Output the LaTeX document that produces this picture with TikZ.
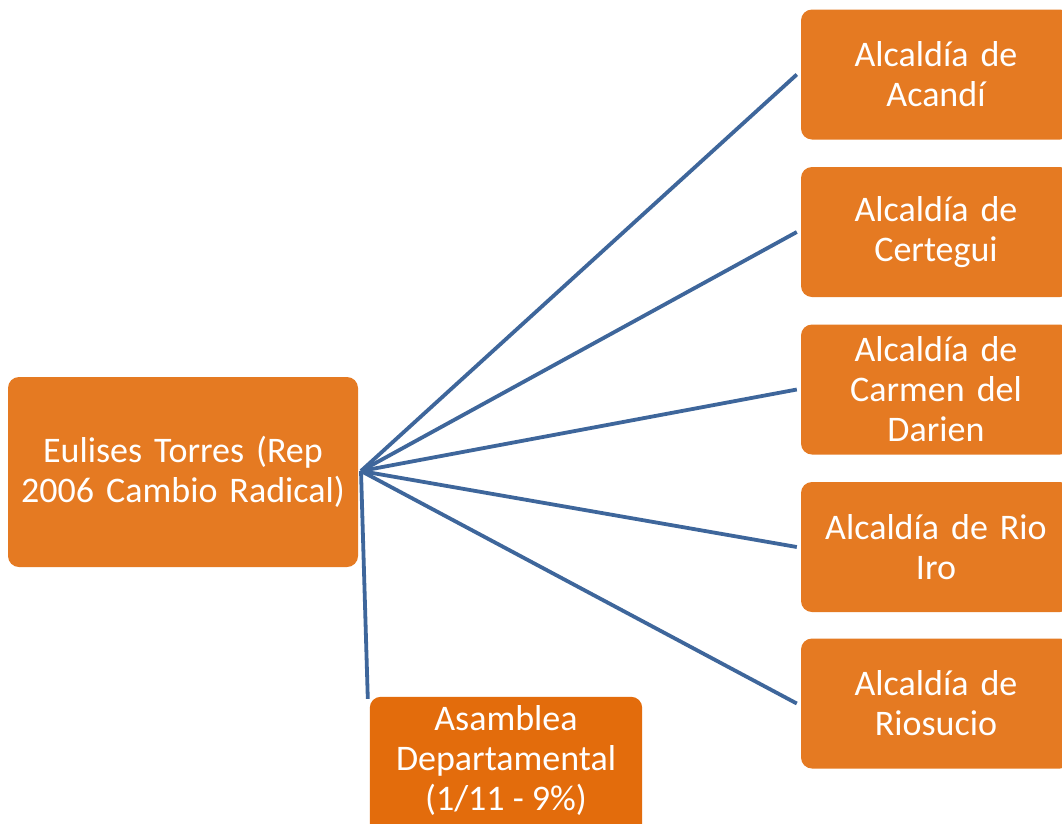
\documentclass[tikz,border=0pt]{standalone}
\usepackage{fontspec}
\setmainfont{Carlito}
\definecolor{boxor}{RGB}{229,122,34}
\definecolor{boxdark}{RGB}{227,108,12}
\definecolor{linkblue}{RGB}{62,102,155}
\begin{document}
\begin{tikzpicture}[x=1pt,y=-1pt,
  box/.style={fill=boxor, rounded corners=11pt, text=white, align=center,
    font=\fontsize{36}{40}\selectfont, inner sep=0pt},
  rbox/.style={box, minimum width=270pt, minimum height=130pt, text width=260pt},
  link/.style={draw=linkblue, line width=3.8pt}]
\useasboundingbox (0,0) rectangle (1062,823);
\clip (0,0) rectangle (1062,823);
\fill[white] (0,0) rectangle (1062,823);
\node[box, minimum width=350pt, minimum height=190pt, text width=345pt] (src) at (183,472) {Eulises Torres (Rep\\2006 Cambio Radical)};
\node[rbox] (a1) at (936,74.5) {Alcaldía de\\Acandí};
\node[rbox] (a2) at (936,232) {Alcaldía de\\Certegui};
\node[rbox] (a3) at (936,389.5) {Alcaldía de\\Carmen del\\Darien};
\node[rbox] (a4) at (936,547) {Alcaldía de Rio\\Iro};
\node[rbox] (a5) at (936,703.5) {Alcaldía de\\Riosucio};
\node[box, fill=none, minimum width=272pt, minimum height=126pt, text width=268pt] (asm) at (506,760) {\phantom{A}};
\fill[boxdark, rounded corners=11pt] (asm.north west) rectangle ([yshift=-20pt]asm.south east);
\node[box, fill=none] at (asm.center) {Asamblea\\Departamental\\(1/11 - 9\%)};
\coordinate (apex) at (361,471);
\draw[link] (apex) -- ([xshift=-4pt]a1.west);
\draw[link] (apex) -- ([xshift=-4pt]a2.west);
\draw[link] (apex) -- ([xshift=-4pt]a3.west);
\draw[link] (apex) -- ([xshift=-4pt]a4.west);
\draw[link] (apex) -- ([xshift=-4pt]a5.west);
\draw[link] (apex) -- ([xshift=-2pt,yshift=-2pt]asm.north west);
\end{tikzpicture}
\end{document}
